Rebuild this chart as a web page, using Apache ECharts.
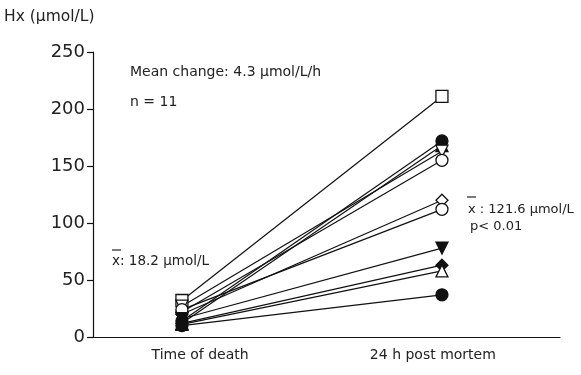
<!DOCTYPE html>
<html>
<head>
<meta charset="utf-8">
<script src="https://cdn.jsdelivr.net/npm/echarts@6/dist/echarts.min.js"></script>
<style>
  html, body { margin: 0; padding: 0; background: #fff; }
  #chart { width: 581px; height: 375px; }
</style>
</head>
<body>
<div id="chart"></div>
<script>
  // categories (x positions 0 and 1)
  const categories = ['Time of death', '24 h post mortem']
  const yTicks = [0, 50, 100, 150, 200, 250]

  // one pair per subject: [time of death, 24 h post mortem]
  const atDeath = [32, 14, 12, 27, 22, 20, 24, 16, 12, 11, 10]
  const postMortem = [211, 172, 168, 163, 155, 120, 112, 78, 63, 58, 37]
  // marker shape, filled?, rotation
  const shapes = ['rect', 'circle', 'triangle', 'triangle', 'circle', 'diamond', 'circle', 'triangle', 'diamond', 'triangle', 'circle']
  const filled = [false, true, true, false, false, false, false, true, true, false, true]
  const rotate = [0, 0, 0, 180, 0, 0, 0, 180, 0, 0, 0]

  const font = 'DejaVu Sans'
  const myChart = echarts.init(document.getElementById('chart'))

  let seriesData = []
  atDeath.map((v, i) => {
    seriesData.push({
      type: 'line',
      symbol: shapes[i],
      symbolSize: 12,
      symbolRotate: rotate[i],
      showAllSymbol: true,
      lineStyle: { color: '#111', width: 1.2 },
      itemStyle: {
        color: filled[i] ? '#111' : '#fff',
        borderColor: '#111',
        borderWidth: 1.3
      },
      z: 3,
      data: [[0, v], [1, postMortem[i]]]
    })
  })

  myChart.setOption({
    animation: false,
    grid: { top: 52, left: 93, right: 21, bottom: 38 },
    xAxis: {
      type: 'value',
      min: -0.342,
      max: 1.454,
      axisLine: { show: true, onZero: false, lineStyle: { color: '#111', width: 1.2 } },
      axisTick: { show: false },
      splitLine: { show: false },
      axisLabel: {
        // labels sit a little right of the left column, as in the original
        customValues: [0.07, 0.965],
        formatter: (v) => categories[Math.round(v)] || '',
        fontFamily: font,
        fontSize: 14,
        color: '#222',
        margin: 11
      }
    },
    yAxis: {
      type: 'value',
      min: yTicks[0],
      max: yTicks[yTicks.length - 1],
      interval: 50,
      name: 'Hx (μmol/L)',
      nameLocation: 'end',
      nameGap: 27,
      nameTextStyle: { fontFamily: font, fontSize: 15.5, color: '#222', align: 'left', padding: [0, 0, 0, -89] },
      axisLine: { show: true, onZero: false, lineStyle: { color: '#111', width: 1.2 } },
      axisTick: { show: true, length: 6, lineStyle: { color: '#111', width: 1.2 } },
      splitLine: { show: false },
      axisLabel: { fontFamily: font, fontSize: 18, color: '#222', margin: 8 }
    },
    graphic: [
      { type: 'text', left: 130, top: 65, style: { text: 'Mean change: 4.3 μmol/L/h', font: '14px "DejaVu Sans"', fill: '#222' } },
      { type: 'text', left: 130, top: 95, style: { text: 'n = 11', font: '14px "DejaVu Sans"', fill: '#222' } },
      { type: 'line', shape: { x1: 112, y1: 250, x2: 121, y2: 250 }, style: { stroke: '#222', lineWidth: 1.2 } },
      { type: 'text', left: 112, top: 254, style: { text: 'x: 18.2 μmol/L', font: '13.5px "DejaVu Sans"', fill: '#222' } },
      { type: 'line', shape: { x1: 467, y1: 197, x2: 476, y2: 197 }, style: { stroke: '#222', lineWidth: 1.2 } },
      { type: 'text', left: 468, top: 203, style: { text: 'x : 121.6 μmol/L', font: '13px "DejaVu Sans"', fill: '#222' } },
      { type: 'text', left: 470, top: 220, style: { text: 'p< 0.01', font: '13px "DejaVu Sans"', fill: '#222' } }
    ],
    series: seriesData
  })

  window.addEventListener('resize', () => {
    myChart && myChart.resize()
  })
</script>
</body>
</html>
